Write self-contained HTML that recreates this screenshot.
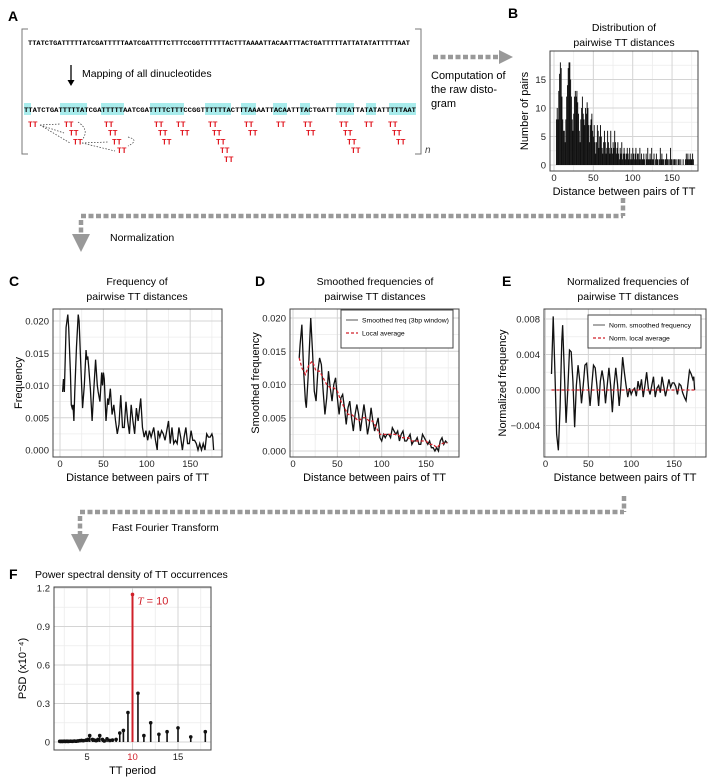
<!DOCTYPE html>
<html><head><meta charset="utf-8"><style>
body{margin:0;background:#fff}
svg{display:block;font-family:"Liberation Sans",sans-serif}
</style></head><body>
<svg id="fig" width="716" height="782" viewBox="0 0 716 782" xmlns="http://www.w3.org/2000/svg">
<g>
<text x="8" y="21" font-size="14" font-weight="bold">A</text>
<path d="M28,29 H22 V154 H28 M415,29 H421 V154 H415" fill="none" stroke="#777" stroke-width="1"/>
<text x="28" y="45" font-family="Liberation Mono,monospace" font-size="6.5" font-weight="bold" textLength="382" lengthAdjust="spacingAndGlyphs">TTATCTGATTTTTATCGATTTTTAATCGATTTTCTTTCCGGTTTTTTACTTTAAAATTACAATTTACTGATTTTTATTATATATTTTTAAT</text>
<line x1="71" y1="65" x2="71" y2="82" stroke="#000" stroke-width="1.3"/>
<path d="M67.5,80 L71,86 L74.5,80 Z" fill="#000"/>
<text x="82" y="77" font-size="10.5">Mapping of all dinucleotides</text>
<g id="hl"></g>
<text x="24" y="112" font-family="Liberation Mono,monospace" font-size="6.5" font-weight="bold" textLength="392" lengthAdjust="spacingAndGlyphs">TTATCTGATTTTTATCGATTTTTAATCGATTTTCTTTCCGGTTTTTTACTTTAAAATTACAATTTACTGATTTTTATTATATATTTTTAAT</text>
<g id="tts" fill="#e0141e" font-family="Liberation Mono,monospace" font-size="8" font-weight="bold"></g>
<g fill="none" stroke="#333" stroke-width="0.7" stroke-dasharray="1.5,1.5">
<path d="M40,125 L60,124 M40,125 L64,133 M40,125 L70,143 M78,122 Q90,130 82,140 M82,143 L108,142 M82,143 L115,151 M128,137 Q140,140 128,146"/>
</g>
<text x="425" y="153" font-size="10" font-style="italic" fill="#444">n</text>
</g>
<g>
<line x1="433" y1="57" x2="500" y2="57" stroke="#999" stroke-width="4.5" stroke-dasharray="5,2.5"/>
<path d="M499,50 L513,57 L499,64 Z" fill="#999"/>
<text x="431" y="79" font-size="11">Computation of</text>
<text x="431" y="93" font-size="11">the raw disto-</text>
<text x="431" y="107" font-size="11">gram</text>
<line x1="623" y1="198" x2="623" y2="216" stroke="#999" stroke-width="4.5" stroke-dasharray="5,2.5"/>
<line x1="81" y1="216" x2="623" y2="216" stroke="#999" stroke-width="4.5" stroke-dasharray="5,2.5"/>
<line x1="81" y1="220" x2="81" y2="236" stroke="#999" stroke-width="4.5" stroke-dasharray="5,2.5"/>
<path d="M72,234 L90,234 L81,252 Z" fill="#999"/>
<text x="110" y="241" font-size="10.5">Normalization</text>
<line x1="624" y1="496" x2="624" y2="512" stroke="#999" stroke-width="4.5" stroke-dasharray="5,2.5"/>
<line x1="80" y1="512" x2="624" y2="512" stroke="#999" stroke-width="4.5" stroke-dasharray="5,2.5"/>
<line x1="80" y1="516" x2="80" y2="536" stroke="#999" stroke-width="4.5" stroke-dasharray="5,2.5"/>
<path d="M71,534 L89,534 L80,552 Z" fill="#999"/>
<text x="112" y="531" font-size="10.5">Fast Fourier Transform</text>
</g>
<g id="charts"></g>
</svg>
<script>
const bDist0 = 3;
const bCounts = [8,10,8,13,16,18,17,12,8,6, 6,4,8,12,14,17,18,18,15,12, 8,6,9,12,13,12,13,11,9,6, 4,8,10,12,9,8,7,10,9,11,
 10,7,4,7,8,9,6,5,7,4, 2,4,7,6,3,5,7,5,3,2, 4,6,4,2,3,6,4,3,2,6, 3,2,4,3,6,4,2,3,4,2, 1,3,2,4,1,2,3,2,1,2,
 3,2,1,3,1,2,1,3,2,1, 2,3,1,2,2,1,3,1,2,1, 1,2,1,0,2,1,3,1,1,2, 1,3,1,1,2,0,1,2,1,1, 0,1,3,1,2,1,1,0,1,1,
 2,1,1,0,1,3,1,1,0,1, 1,1,0,1,0,1,1,0,1,0, 0,1,0,0,1,2,1,2,1,1, 2,1,1,2,1];
const cDist = [3,4,5,7,9,10,12,13,14,15,16,17,19,21,22,24,26,28,30,31,32,33,35,37,39,41,43,44,46,48,49,50,51,53,55,56,58,60,62,64,66,68,70,72,74,76,78,80,82,84,86,88,90,93,95,97,99,101,103,105,106,108,110,112,113,115,117,119,121,123,125,127,129,131,133,135,137,139,141,143,145,147,149,151,153,155,157,159,161,163,165,167,169,171,173,175,176,177];
const cFreq = [0.009,0.011,0.009,0.019,0.021,0.019,0.012,0.007,0.0065,0.007,0.0045,0.009,0.016,0.021,0.020,0.013,0.0065,0.010,0.0155,0.014,0.0145,0.013,0.0095,0.0045,0.0095,0.014,0.010,0.009,0.0075,0.012,0.010,0.012,0.011,0.0045,0.008,0.007,0.0095,0.0055,0.007,0.0045,0.0025,0.004,0.0085,0.0035,0.0035,0.0075,0.0045,0.0025,0.007,0.0045,0.0025,0.0065,0.0045,0.008,0.0035,0.002,0.003,0.0015,0.003,0.002,0.0025,0.0035,0.0015,0,0.003,0.002,0.003,0.0025,0.0015,0.003,0.0045,0.001,0.0035,0.001,0.0015,0.001,0.0035,0.002,0,0.002,0.0035,0.001,0.001,0.003,0.0015,0.0015,0.001,0,0.001,0,0.001,0,0.0025,0.002,0.002,0.0025,0.002,0];
const dDist = [7,8,10,12,14,15,17,19,20,22,24,26,28,30,32,34,36,38,40,42,44,46,48,50,52,54,56,58,60,62,64,66,68,70,72,74,76,78,80,82,84,86,88,90,92,94,96,98,100,102,104,106,108,110,112,114,116,118,120,122,124,126,128,130,132,134,136,138,140,142,144,146,148,150,152,154,156,158,160,162,164,166,168,170,172,174];
const dSmooth = [0.014,0.016,0.019,0.012,0.0075,0.0065,0.011,0.017,0.020,0.015,0.009,0.0075,0.012,0.014,0.013,0.009,0.0055,0.008,0.012,0.0095,0.0075,0.010,0.011,0.008,0.0055,0.008,0.0085,0.0065,0.004,0.0065,0.0075,0.005,0.003,0.0055,0.007,0.0055,0.003,0.005,0.007,0.005,0.0025,0.004,0.0065,0.0045,0.003,0.004,0.005,0.002,0.0015,0.0025,0.002,0.0025,0.0025,0.002,0.0035,0.003,0.0025,0.003,0.0015,0.0025,0.003,0.0015,0.0015,0.002,0.0025,0.001,0.0015,0.0015,0.002,0.001,0.001,0.0025,0.002,0.0015,0.001,0.0015,0.0005,0.0005,0,0.0005,0,0.0015,0.002,0.001,0.0015,0.0012];
const avgDist = [7,10,14,18,22,26,30,34,38,42,46,50,54,58,62,66,70,74,78,82,86,90,94,98,102,106,110,114,118,122,126,130,134,138,142,146,150,154,158,162,166,170,174];
const dLocalAvg = [0.014,0.0125,0.0115,0.013,0.0135,0.012,0.012,0.011,0.010,0.0095,0.0095,0.009,0.0075,0.0065,0.0055,0.0055,0.005,0.0045,0.005,0.005,0.0045,0.0045,0.0035,0.0025,0.0025,0.0025,0.0025,0.0025,0.0025,0.002,0.002,0.002,0.0015,0.0015,0.0015,0.0015,0.0015,0.001,0.001,0.0005,0.001,0.0012,0.0012];
const eDist = [7,9,11,13,15,17,19,20,22,24,26,28,30,32,34,36,38,40,42,44,46,48,50,52,54,56,58,60,62,64,66,68,70,72,74,76,78,80,82,84,86,88,90,92,94,96,98,100,102,104,106,108,110,112,114,116,118,120,122,124,126,128,130,132,134,136,138,140,142,144,146,148,150,152,154,156,158,160,162,164,166,168,170,172,173,174];
const eNorm = [0.0018,0.0083,0.002,-0.005,-0.0068,-0.002,0.0055,0.0073,0.002,-0.0037,0,0.0045,0.0043,0.001,-0.0042,0.0005,0.0028,0.001,-0.0015,0.0005,0.0028,0.003,0.0005,-0.0018,0.0005,0.0028,0.0025,0.0005,-0.0018,0.001,0.0022,0.001,-0.0015,0.0005,0.0025,0.0005,-0.0025,0.0005,0.0025,0.0007,-0.0018,0.0005,0.0037,0.002,0.0005,-0.0008,0.0002,-0.0005,0,0.0002,-0.0007,0.001,0,0.0012,-0.0008,0.0005,0.002,0.0002,-0.0005,0.0005,0.0015,-0.0008,0.0002,0.0005,-0.0003,0.0015,0.0004,-0.0007,0.0002,0.0012,0.0003,0.0008,0.0008,0.0004,-0.0005,0.0007,0.0005,-0.0003,-0.0008,-0.0012,0.0005,0.0022,0.0018,0.0012,0.0015,0];
const eAvgRange = [7,174];
const fPeriods = [2.0,2.1,2.2,2.3,2.4,2.5,2.6,2.7,2.8,2.9,3.0,3.2,3.4,3.6,3.8,4.0,4.2,4.4,4.6,4.9,5.1,5.3,5.6,5.8,6.0,6.2,6.4,6.7,6.9,7.2,7.5,7.8,8.2,8.6,9.0,9.5,10,10.6,11.25,12,12.9,13.8,15,16.4,18];
const fPSD = [0.005,0.004,0.005,0.004,0.005,0.006,0.004,0.005,0.006,0.004,0.005,0.006,0.005,0.007,0.006,0.008,0.01,0.012,0.01,0.015,0.02,0.05,0.02,0.015,0.01,0.02,0.05,0.02,0.008,0.025,0.012,0.015,0.02,0.07,0.09,0.23,1.15,0.38,0.05,0.15,0.06,0.08,0.11,0.04,0.08];
const peakPeriod = 10;
const ttRows = [[32,68,108,158,180,212,248,280,307,343,368,392],[73,112,162,184,216,252,310,347,396],[77,116,166,220,351,400],[121,224,355],[228]];
const hlRuns = [[24,31],[60,87],[101,124],[150,184],[205,231],[241,256],[273,287],[300,310],[336,354],[366,376],[389,416]];
const NS = 'http://www.w3.org/2000/svg';
function mk(tag, attrs, parent){const e=document.createElementNS(NS,tag);for(const k in attrs)e.setAttribute(k,attrs[k]);parent.appendChild(e);return e;}
const hl=document.getElementById('hl');
hlRuns.forEach(r=>{const e=mk('rect',{x:r[0],y:103,width:r[1]-r[0],height:12,fill:'#a8ecec'},hl);

});
const tts=document.getElementById('tts');
ttRows.forEach((row,ri)=>row.forEach(x=>{const t=mk('text',{x:x-4,y:127+ri*8.7},tts);t.textContent='TT';

}));
const charts=document.getElementById('charts');
function panel(o){
  const g=mk('g',{},charts);
  
  
  const sx=v=>o.x0px+(v-o.x0v)*o.xk, sy=v=>o.y0px-(v-o.y0v)*o.yk;
  mk('rect',{x:o.box[0],y:o.box[1],width:o.box[2]-o.box[0],height:o.box[3]-o.box[1],fill:'#fff'},g);
  o.xminor.forEach(v=>mk('line',{x1:sx(v),x2:sx(v),y1:o.box[1],y2:o.box[3],stroke:'#ececec','stroke-width':0.8},g));
  o.yminor.forEach(v=>mk('line',{y1:sy(v),y2:sy(v),x1:o.box[0],x2:o.box[2],stroke:'#ececec','stroke-width':0.8},g));
  o.xticks.forEach(v=>mk('line',{x1:sx(v),x2:sx(v),y1:o.box[1],y2:o.box[3],stroke:'#d4d4d4','stroke-width':1},g));
  o.yticks.forEach(v=>mk('line',{y1:sy(v),y2:sy(v),x1:o.box[0],x2:o.box[2],stroke:'#d4d4d4','stroke-width':1},g));
  o.xticks.forEach((v,i)=>{const t=mk('text',{x:sx(v),y:o.box[3]+10,'font-size':9.5,'text-anchor':'middle',fill:o.xcol&&o.xcol[i]||'#222'},g);t.textContent=o.xlabels[i];
    
    });
  o.yticks.forEach((v,i)=>{const t=mk('text',{x:o.box[0]-4,y:sy(v)+3.5,'font-size':9.5,'text-anchor':'end',fill:'#222'},g);t.textContent=o.ylabels[i];
    
    });
  const xt=mk('text',{x:(o.box[0]+o.box[2])/2,y:o.box[3]+24,'font-size':11,'text-anchor':'middle'},g);xt.textContent=o.xtitle;
  
  
  const yt=mk('text',{x:0,y:0,'font-size':11,'text-anchor':'middle',transform:`translate(${o.ytx},${(o.box[1]+o.box[3])/2}) rotate(-90)`},g);yt.textContent=o.ytitle;
  
  
  o.title.forEach((s,i)=>{const t=mk('text',{x:o.tx,y:o.ty+i*15,'font-size':10.5,'text-anchor':o.tanchor||'middle'},g);t.textContent=s;
    
    });
  const L=mk('text',{x:o.letter[0],y:o.letter[1],'font-size':14,'font-weight':'bold'},g);L.textContent=o.letterText;
  
  
  const marks=mk('g',{},g);
  
  
  const border=()=>mk('rect',{x:o.box[0],y:o.box[1],width:o.box[2]-o.box[0],height:o.box[3]-o.box[1],fill:'none',stroke:'#444','stroke-width':1},g);
  return {g,marks,sx,sy,border};
}
function line(p,xs,ys,attrs){const d=xs.map((x,i)=>(i?'L':'M')+p.sx(x).toFixed(2)+','+p.sy(ys[i]).toFixed(2)).join(' ');return mk('path',Object.assign({d,fill:'none'},attrs),p.marks);}
function legend(p,box,items){
  const lg=mk('g',{},p.g);
  
  
  mk('rect',{x:box[0],y:box[1],width:box[2],height:box[3],fill:'#fff',stroke:'#444','stroke-width':1},lg);
  items.forEach((it,i)=>{const y=box[1]+10+i*13;
    const l=mk('line',{x1:box[0]+5,x2:box[0]+17,y1:y,y2:y,stroke:it.c,'stroke-width':it.w,'stroke-dasharray':it.dash||'none'},lg);
    
    
    const t=mk('text',{x:box[0]+21,y:y+2.5,'font-size':6.8},lg);t.textContent=it.t;
    
    });
}
const pb=panel({name:'panel-b-histogram',box:[550,51,698,171],x0px:554,x0v:0,xk:0.787,y0px:165,y0v:0,yk:5.7,
 xticks:[0,50,100,150],xlabels:['0','50','100','150'],xminor:[25,75,125,175],
 yticks:[0,5,10,15],ylabels:['0','5','10','15'],yminor:[2.5,7.5,12.5,17.5],
 xtitle:'Distance between pairs of TT',ytitle:'Number of pairs',ytx:528,title:['Distribution of','pairwise TT distances'],tx:624,ty:31,letter:[508,18],letterText:'B'});
bCounts.forEach((c,i)=>{const d=bDist0+i;const r=mk('rect',{x:pb.sx(d-0.5),y:pb.sy(c),width:0.95,height:pb.sy(0)-pb.sy(c),fill:'#111'},pb.marks);
 
 });
pb.border();
const pc=panel({name:'panel-c-frequency',box:[53,309,222,457],x0px:60,x0v:0,xk:0.868,y0px:450,y0v:0,yk:6450,
 xticks:[0,50,100,150],xlabels:['0','50','100','150'],xminor:[25,75,125,175],
 yticks:[0,0.005,0.01,0.015,0.02],ylabels:['0.000','0.005','0.010','0.015','0.020'],yminor:[0.0025,0.0075,0.0125,0.0175],
 xtitle:'Distance between pairs of TT',ytitle:'Frequency',ytx:22,title:['Frequency of','pairwise TT distances'],tx:137,ty:285,letter:[9,286],letterText:'C'});
const lc=line(pc,cDist,cFreq,{stroke:'#111','stroke-width':1.3});


pc.border();
const pd=panel({name:'panel-d-smoothed',box:[290,309,459,457],x0px:293,x0v:0,xk:0.887,y0px:451,y0v:0,yk:6650,
 xticks:[0,50,100,150],xlabels:['0','50','100','150'],xminor:[25,75,125,175],
 yticks:[0,0.005,0.01,0.015,0.02],ylabels:['0.000','0.005','0.010','0.015','0.020'],yminor:[0.0025,0.0075,0.0125,0.0175],
 xtitle:'Distance between pairs of TT',ytitle:'Smoothed frequency',ytx:259,title:['Smoothed frequencies of','pairwise TT distances'],tx:375,ty:285,letter:[255,286],letterText:'D'});
const ld=line(pd,dDist,dSmooth,{stroke:'#111','stroke-width':1.3});


const la=line(pd,avgDist,dLocalAvg,{stroke:'#d0202a','stroke-width':1.3,'stroke-dasharray':'3,2'});


pd.border();
legend(pd,[341,310,112,38],[{t:'Smoothed freq (3bp window)',c:'#555',w:1},{t:'Local average',c:'#d0202a',w:1.3,dash:'3,2'}]);
const pe=panel({name:'panel-e-normalized',box:[544,309,706,457],x0px:545.5,x0v:0,xk:0.857,y0px:390,y0v:0,yk:8875,
 xticks:[0,50,100,150],xlabels:['0','50','100','150'],xminor:[25,75,125,175],
 yticks:[-0.004,0,0.004,0.008],ylabels:['\u22120.004','0.000','0.004','0.008'],yminor:[-0.006,-0.002,0.002,0.006],
 xtitle:'Distance between pairs of TT',ytitle:'Normalized frequency',ytx:506,title:['Normalized frequencies of','pairwise TT distances'],tx:628,ty:285,letter:[502,286],letterText:'E'});
const le=line(pe,eDist,eNorm,{stroke:'#111','stroke-width':1.3});


const le2=line(pe,eAvgRange,[0,0],{stroke:'#d0202a','stroke-width':1.3,'stroke-dasharray':'3,2'});


pe.border();
legend(pe,[588,315,113,33],[{t:'Norm. smoothed frequency',c:'#555',w:1},{t:'Norm. local average',c:'#d0202a',w:1.3,dash:'3,2'}]);
const pf=panel({name:'panel-f-psd',box:[54,587,211,750],x0px:87,x0v:5,xk:9.1,y0px:742,y0v:0,yk:128.3,
 xticks:[5,10,15],xlabels:['5','10','15'],xcol:['#222','#d0202a','#222'],xminor:[2.5,7.5,12.5,17.5],
 yticks:[0,0.3,0.6,0.9,1.2],ylabels:['0','0.3','0.6','0.9','1.2'],yminor:[0.15,0.45,0.75,1.05],
 xtitle:'TT period',ytitle:'PSD (x10\u207B\u2074)',ytx:26,title:['Power spectral density of TT occurrences'],tx:35,ty:578,tanchor:'start',letter:[9,579],letterText:'F'});
fPeriods.forEach((p,i)=>{const col=p===peakPeriod?'#d0202a':'#111';
 const s=mk('line',{x1:pf.sx(p),x2:pf.sx(p),y1:pf.sy(0),y2:pf.sy(fPSD[i]),stroke:col,'stroke-width':p===peakPeriod?2:1.6},pf.marks);
 
 
 const c=mk('circle',{cx:pf.sx(p),cy:pf.sy(fPSD[i]),r:1.8,fill:col},pf.marks);
 
 });
const pk=fPeriods.indexOf(peakPeriod);
const ann=mk('text',{x:pf.sx(peakPeriod)+5,y:pf.sy(fPSD[pk])+10,'font-size':11,fill:'#d0202a'},pf.g);
ann.innerHTML='<tspan font-style="italic" font-family="Liberation Serif,serif">T</tspan> = 10';


pf.border();
</script>
</body></html>
